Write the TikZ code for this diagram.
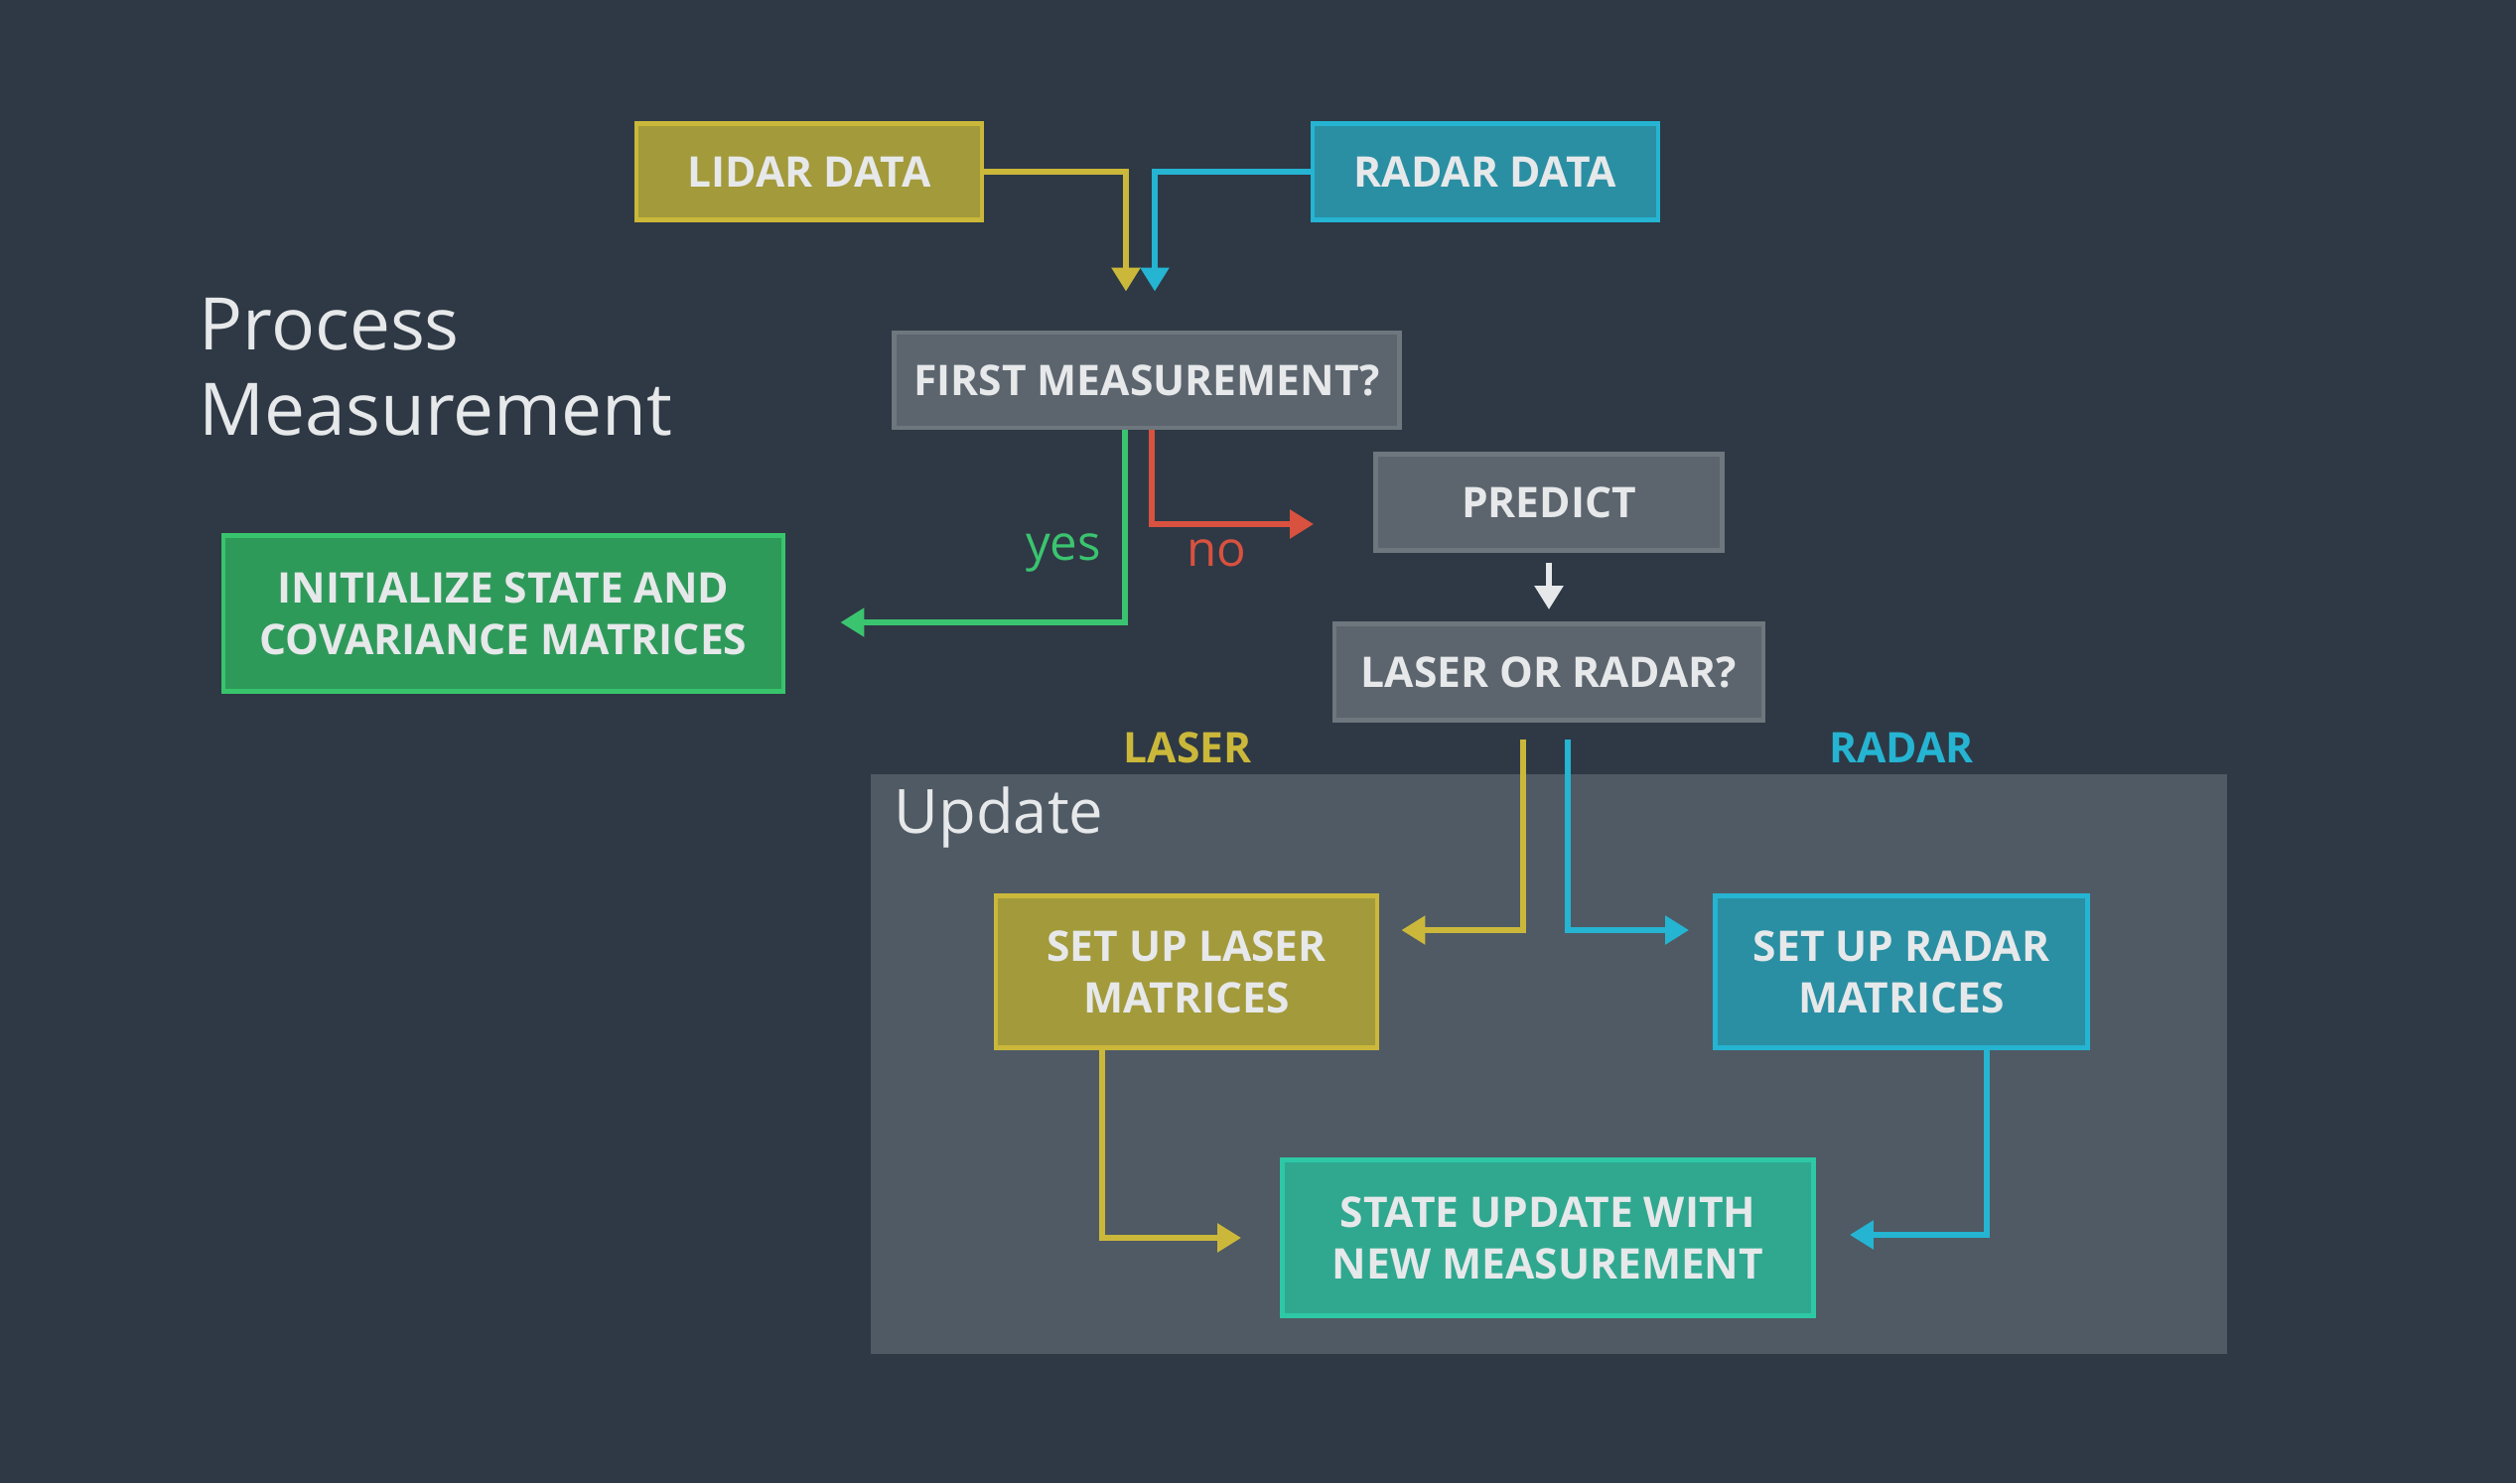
\documentclass[tikz,border=0pt]{standalone}
\usepackage{fontspec}
\setmainfont{Open Sans}
\usetikzlibrary{positioning,arrows.meta}
\definecolor{bgcol}{HTML}{2E3945}
\definecolor{updcol}{HTML}{4F5A64}
\definecolor{yelfill}{HTML}{A39A3B}
\definecolor{yeldraw}{HTML}{CBB83A}
\definecolor{cyanfill}{HTML}{2A8FA3}
\definecolor{cyandraw}{HTML}{25B4D2}
\definecolor{grayfill}{HTML}{5C656E}
\definecolor{graydraw}{HTML}{6E767E}
\definecolor{greenfill}{HTML}{2E9A5A}
\definecolor{greendraw}{HTML}{38C46C}
\definecolor{tealfill}{HTML}{30A890}
\definecolor{tealdraw}{HTML}{2DC8A6}
\definecolor{yesgreen}{HTML}{3BC46F}
\definecolor{nored}{HTML}{D9513F}
\definecolor{txtwhite}{HTML}{E6E8EA}
\begin{document}
\begin{tikzpicture}
\tikzset{box/.style={draw, line width=1.4pt, text=txtwhite, align=center,
  font=\fontsize{12.1}{14.8}\selectfont\bfseries, inner sep=0pt},
  yelbox/.style={box, fill=yelfill, draw=yeldraw},
  cyanbox/.style={box, fill=cyanfill, draw=cyandraw},
  graybox/.style={box, fill=grayfill, draw=graydraw},
  line/.style={line width=1.6pt, -{Triangle[length=0.24cm, width=0.28cm]}}}
% Background and update area
\useasboundingbox (0,0) rectangle (25.34,14.94);
\fill[bgcol] (0,0) rectangle (25.34,14.94);
\fill[updcol] (8.77,1.30) rectangle (22.43,7.14);
% Titles
\node[anchor=west, text=txtwhite, align=left, inner sep=0pt, font=\fontsize{20.8}{24.5}\selectfont] (title) at (2.0,11.24) {Process\\Measurement};
\node[anchor=west, text=txtwhite, inner sep=0pt, font=\fontsize{17.5}{21}\selectfont] (update) at (9.0,6.70) {Update};
% Boxes
\node[yelbox, minimum width=3.48cm, minimum height=0.97cm] (lidar) at (8.15,13.21) {LIDAR DATA};
\node[cyanbox, minimum width=3.48cm, minimum height=0.97cm] (radar) at (14.96,13.21) {RADAR DATA};
\node[graybox, minimum width=5.09cm, minimum height=0.96cm] (first) at (11.55,11.11) {FIRST MEASUREMENT?};
\node[graybox, minimum width=3.49cm, minimum height=0.97cm] (predict) at (15.60,9.88) {PREDICT};
\node[graybox, minimum width=4.32cm, minimum height=0.97cm] (lor) at (15.60,8.17) {LASER OR RADAR?};
\node[box, fill=greenfill, draw=greendraw, minimum width=5.64cm, minimum height=1.57cm] (init) at (5.07,8.76) {INITIALIZE STATE AND\\COVARIANCE MATRICES};
\node[yelbox, minimum width=3.84cm, minimum height=1.53cm] (setlaser) at (11.95,5.15) {SET UP LASER\\MATRICES};
\node[cyanbox, minimum width=3.75cm, minimum height=1.53cm] (setradar) at (19.15,5.15) {SET UP RADAR\\MATRICES};
\node[box, fill=tealfill, draw=tealdraw, minimum width=5.35cm, minimum height=1.57cm] (state) at (15.59,2.47) {STATE UPDATE WITH\\NEW MEASUREMENT};
% Labels
\node[text=yesgreen, font=\fontsize{14}{16}\selectfont] (yes) at (10.71,9.37) {yes};
\node[text=nored, font=\fontsize{14}{16}\selectfont] (no) at (12.25,9.37) {no};
\node[text=yeldraw, font=\fontsize{12.1}{15}\selectfont\bfseries] (laserlbl) at (11.96,7.41) {LASER};
\node[text=cyandraw, font=\fontsize{12.1}{15}\selectfont\bfseries] (radarlbl) at (19.15,7.41) {RADAR};
% Arrows
\draw[line, yeldraw] (lidar.east) -| ([xshift=-0.21cm, yshift=0.39cm]first.north);
\draw[line, cyandraw] (radar.west) -| ([xshift=0.08cm, yshift=0.39cm]first.north);
\draw[line, yesgreen] ([xshift=-0.22cm]first.south) |- ([xshift=0.55cm, yshift=-0.09cm]init.east);
\draw[line, nored] ([xshift=0.05cm]first.south) |- ([xshift=-0.6cm, yshift=-0.22cm]predict.west);
\draw[line, txtwhite] ([yshift=-0.1cm]predict.south) -- ([yshift=0.12cm]lor.north);
\draw[line, yeldraw] ([xshift=-0.26cm, yshift=-0.17cm]lor.south) |- ([xshift=0.22cm, yshift=0.42cm]setlaser.east);
\draw[line, cyandraw] ([xshift=0.19cm, yshift=-0.17cm]lor.south) |- ([xshift=-0.24cm, yshift=0.42cm]setradar.west);
\draw[line, yeldraw] ([xshift=-0.85cm]setlaser.south) |- ([xshift=-0.39cm]state.west);
\draw[line, cyandraw] ([xshift=0.86cm]setradar.south) |- ([xshift=0.34cm, yshift=0.03cm]state.east);
\end{tikzpicture}
\end{document}
